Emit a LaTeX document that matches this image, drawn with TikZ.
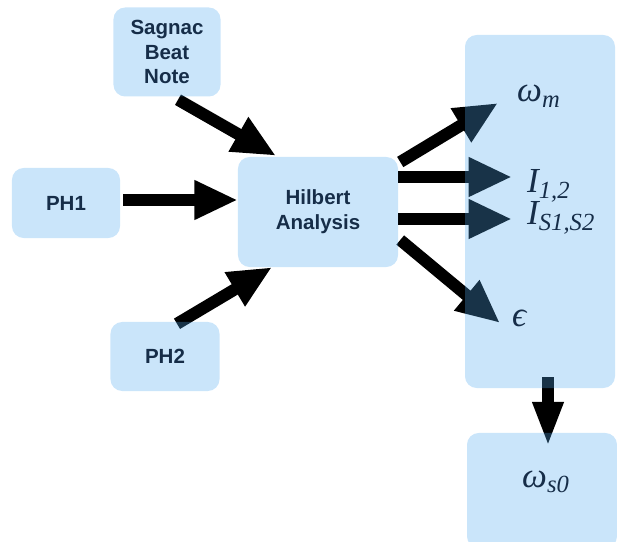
\RequirePackage{fix-cm}
\documentclass[tikz,border=0pt]{standalone}
\usepackage{fontspec}
\newfontfamily\boxfont{Liberation Sans}
\newfontfamily\lblfont{Liberation Serif}
\usetikzlibrary{arrows.meta,calc,backgrounds}
\definecolor{boxblue}{RGB}{80,170,240}
\definecolor{navy}{RGB}{22,45,72}

\begin{document}
\begin{tikzpicture}[x=0.03cm,y=-0.03cm,
  box/.style={fill=boxblue,fill opacity=0.3,text opacity=1,rounded corners=0.35cm,inner sep=0pt,text=navy,font=\boxfont\bfseries\fontsize{17.5}{21}\selectfont,align=center},
  lbl/.style={anchor=base west,inner sep=0pt,text=navy,font=\lblfont\itshape\fontsize{30}{33}\selectfont},
  fat/.style={line width=0.36cm,-{Triangle[length=1.3cm,width=1.1cm]}}]
  \useasboundingbox (0,0) rectangle (617,542);
  \node[box,minimum width=3.21cm,minimum height=2.67cm] (sagnac) at (167,52) {Sagnac\\Beat\\Note};
  \node[box,minimum width=3.24cm,minimum height=2.1cm] (ph1) at (66,203) {PH1};
  \node[box,minimum width=4.8cm,minimum height=3.3cm] (hilbert) at (318,212) {Hilbert\\Analysis};
  \node[box,minimum width=3.27cm,minimum height=2.07cm] (ph2) at (165,356.5) {PH2};
  \node[box,minimum width=4.5cm,minimum height=10.59cm] (results) at (540,211.5) {};
  \node[box,minimum width=4.5cm,minimum height=3.45cm] (ws0box) at (542,490.5) {};
  \node[lbl] (wm) at (517,102) {ω\textsubscript{m}};
  \node[lbl] (i12) at (527,193) {I\textsubscript{1,2}};
  \node[lbl] (is) at (527,225) {I\textsubscript{S1,S2}};
  \node[lbl] (eps) at (512,327) {ϵ};
  \node[lbl] (ws0) at (522,487) {ω\textsubscript{s0}};
  \begin{scope}[on background layer]
    \draw[fat] ($(sagnac.south)+(11,3)$) -- ($(hilbert.north)+(-42,-1)$);
    \draw[fat] ($(ph1.east)+(3,-3)$) -- ($(hilbert.west)+(0,-12)$);
    \draw[fat] ($(ph2.north)+(12,2)$) -- ($(hilbert.south)+(-46,0)$);
    \draw[fat] ($(hilbert.east)+(2,-50)$) -- ($(wm.base west)+(-19,1)$);
    \draw[fat] ($(hilbert.east)+(0,-35)$) -- ($(i12.base west)+(-15,-16)$);
    \draw[fat] ($(hilbert.east)+(0,7)$) -- ($(is.base west)+(-15,-6)$);
    \draw[fat] ($(hilbert.east)+(2,28)$) -- ($(eps.base west)+(-12,-4)$);
    \draw[fat,-{Triangle[length=1.35cm,width=0.85cm]}] ($(results.south)+(8,-11)$) -- ($(ws0box.north)+(6,14)$);
  \end{scope}
\end{tikzpicture}
\end{document}
